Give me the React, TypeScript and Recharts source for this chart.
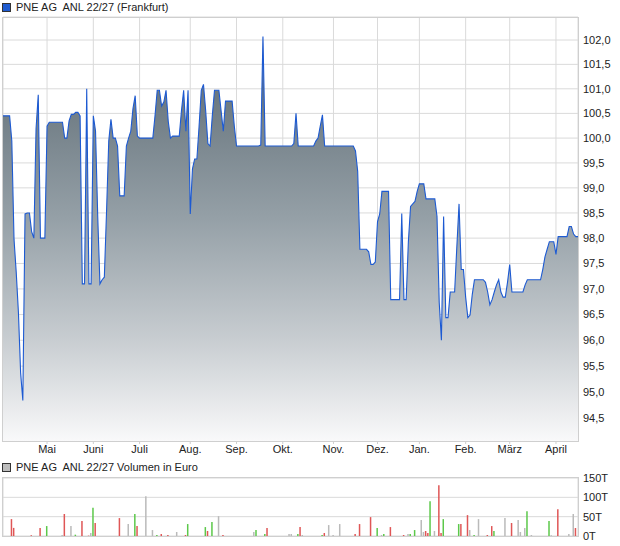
import React from 'react';
import { AreaChart, Area, BarChart, Bar, Cell, XAxis, YAxis, CartesianGrid } from 'recharts';

// trading day index 0 .. 261 (April to April)
const priceValues = [
  100.45, 100.45, 100.45, 100.45, 99.94, 97.98, 97.33, 96.54, 95.37, 94.84,
  98.48, 98.5, 98.5, 98.13, 98.0, 100.19, 100.88, 98.0, 98.0, 98.0,
  100.24, 100.32, 100.32, 100.32, 100.32, 100.32, 100.32, 100.32, 100.0, 100.0,
  100.35, 100.48, 100.48, 100.52, 100.52, 100.45, 97.1, 97.1, 101.0, 97.1,
  97.1, 100.45, 100.14, 98.43, 97.1, 97.18, 97.23, 98.53, 99.94, 100.38,
  100.0, 100.0, 99.84, 98.84, 98.84, 98.84, 99.84, 100.0, 100.14, 100.6,
  100.86, 100.04, 100.0, 100.0, 100.0, 100.0, 100.0, 100.0, 100.0, 100.45,
  100.97, 100.97, 100.65, 100.73, 100.97, 100.34, 100.0, 100.04, 100.04, 100.04,
  100.04, 100.55, 100.97, 100.14, 100.97, 98.48, 99.38, 99.58, 99.58, 100.24,
  100.97, 101.09, 100.55, 99.89, 99.84, 100.45, 100.97, 100.97, 100.97, 100.55,
  100.14, 100.75, 100.75, 100.75, 100.75, 100.24, 99.84, 99.84, 99.84, 99.84,
  99.84, 99.84, 99.84, 99.84, 99.84, 99.84, 99.84, 99.86, 102.07, 99.84,
  99.84, 99.84, 99.84, 99.84, 99.84, 99.84, 99.84, 99.84, 99.84, 99.84,
  99.84, 99.84, 99.89, 100.5, 99.84, 99.84, 99.84, 99.84, 99.84, 99.84,
  99.84, 99.84, 99.94, 100.0, 100.24, 100.47, 99.84, 99.84, 99.84, 99.84,
  99.84, 99.84, 99.84, 99.84, 99.84, 99.84, 99.84, 99.84, 99.84, 99.84,
  99.74, 99.33, 97.78, 97.78, 97.78, 97.78, 97.73, 97.48, 97.48, 97.53,
  98.33, 98.48, 98.93, 98.93, 98.93, 98.93, 96.79, 96.79, 96.79, 96.79,
  96.79, 98.49, 96.79, 96.79, 97.93, 98.63, 98.68, 98.73, 98.93, 99.08,
  99.08, 99.08, 98.78, 98.78, 98.78, 98.78, 98.78, 98.43, 96.74, 96.0,
  98.43, 96.44, 96.44, 96.94, 96.94, 96.94, 97.83, 98.68, 97.38, 97.38,
  96.84, 96.44, 96.49, 96.89, 97.18, 97.18, 97.18, 97.18, 97.18, 97.13,
  96.94, 96.69, 96.79, 96.94, 97.08, 97.18, 96.94, 96.84, 96.84, 97.13,
  97.48, 96.94, 96.94, 96.94, 96.94, 96.94, 96.94, 97.08, 97.18, 97.18,
  97.18, 97.18, 97.18, 97.18, 97.18, 97.38, 97.63, 97.78, 97.93, 97.93,
  97.93, 97.68, 98.03, 98.03, 98.03, 98.03, 98.03, 98.23, 98.23, 98.08,
  98.03, 98.03,
];

const monthTicks = [20, 41, 62, 85, 106, 127, 150, 170, 189, 210, 230, 251];
const monthLabels = ['Mai', 'Juni', 'Juli', 'Aug.', 'Sep.', 'Okt.', 'Nov.', 'Dez.', 'Jan.', 'Feb.', 'März', 'April'];
const priceTicks = [94.5, 95, 95.5, 96, 96.5, 97, 97.5, 98, 98.5, 99, 99.5, 100, 100.5, 101, 101.5, 102];

// volume in thousand euro
const volumeDays = [
  4, 5, 13, 17, 20, 27, 28, 31, 33, 36, 39, 40, 41, 42, 53, 57, 60, 61, 65, 68,
  70, 72, 75, 79, 83, 84, 92, 93, 95, 98, 100, 114, 115, 119, 120, 130, 131, 134, 135, 136,
  145, 146, 148, 150, 153, 160, 162, 167, 170, 172, 173, 176, 182, 184, 185, 187, 190, 191, 192, 193,
  194, 196, 198, 199, 200, 207, 208, 211, 212, 214, 216, 220, 222, 223, 228, 231, 234, 235, 237, 238,
  240, 248, 249, 252, 257, 259, 260,
];
const volumeValues = [
  43.7, 21, 2, 20.5, 25.7, 2.6, 56.6, 25.7, 3.4, 38.6, 1, 7.7, 72.9, 33.4, 46.3, 30.9, 56.6, 25.7, 102.9, 15.4,
  2.6, 5.1, 2.6, 10.3, 2.6, 30.9, 23.1, 12.9, 36, 51.4, 2.6, 10.3, 15.4, 5.1, 20.6, 5.1, 5.1, 5.1, 23.1, 2.6,
  2.6, 7.7, 28.3, 2.6, 30.9, 5.1, 30.9, 48.9, 20.6, 2.6, 5.1, 23.1, 2.6, 5.1, 5.1, 15.4, 41.1, 10.3, 12.9, 7.7,
  90, 12.9, 131.1, 7.7, 43.7, 30.9, 30.9, 54, 15.4, 2.6, 43.7, 2.6, 25.7, 12.9, 46.3, 33.4, 41.1, 10.3, 20.6, 64.3,
  2.6, 38.6, 1.7, 69.4, 5.1, 56.6, 20.6,
];
const volumeMoves = [
  'down', 'down', 'down', 'down', 'up', 'flat', 'down', 'flat', 'up', 'down', 'down', 'flat', 'up', 'down', 'down', 'flat', 'up', 'down', 'flat', 'flat',
  'up', 'down', 'down', 'flat', 'down', 'up', 'up', 'down', 'up', 'flat', 'down', 'flat', 'up', 'up', 'down', 'flat', 'flat', 'up', 'down', 'flat',
  'up', 'down', 'flat', 'flat', 'flat', 'down', 'down', 'down', 'up', 'flat', 'up', 'down', 'down', 'flat', 'up', 'up', 'flat', 'flat', 'down', 'down',
  'up', 'flat', 'down', 'down', 'up', 'up', 'down', 'down', 'flat', 'up', 'flat', 'down', 'down', 'up', 'flat', 'down', 'flat', 'flat', 'flat', 'up',
  'flat', 'up', 'flat', 'down', 'flat', 'flat', 'down',
];
const volumeTicks = [0, 50, 100, 150];

const priceData = priceValues.map((price, day) => ({ day, price }));
const volumeData = volumeDays.map((day, i) => ({ day, volume: volumeValues[i], move: volumeMoves[i] }));

const moveColor: Record<string, string> = { up: '#5cc84a', down: '#df5656', flat: '#bababa' };
const font = '"Liberation Sans", Arial, sans-serif';
const gridColor = '#dadada';

const monthName = (d: number) => monthLabels[monthTicks.indexOf(d)] ?? '';

const LegendLine = ({ top, color, text }: { top: number; color: string; text: string }) => (
  <div style={{ position: 'absolute', left: 2, top, display: 'flex', alignItems: 'center', fontFamily: font, fontSize: 11, color: '#222', whiteSpace: 'pre' }}>
    <span style={{ width: 7, height: 7, background: color, border: '1px solid #333', marginRight: 5 }} />
    {text}
  </div>
);

const Frame = ({ top, height }: { top: number; height: number }) => (
  <div style={{ position: 'absolute', left: 2, top, width: 577, height, boxSizing: 'border-box', border: '1px solid #cfcfcf', pointerEvents: 'none' }} />
);

export default function App() {
  return (
    <div style={{ position: 'absolute', left: 0, top: 0, width: 620, height: 546, background: '#fff', fontFamily: font }}>
      <LegendLine top={1} color="#1f5bd0" text="PNE AG  ANL 22/27 (Frankfurt)" />
      <div style={{ position: 'absolute', left: 0, top: 0 }}>
        <AreaChart width={620} height={460} data={priceData} margin={{ top: 17, right: 0, bottom: 0, left: 3 }}>
          <defs>
            <linearGradient id="priceFill" x1="0" y1="0" x2="0" y2="1">
              <stop offset="0%" stopColor="#58666f" />
              <stop offset="45%" stopColor="#95a0a7" />
              <stop offset="75%" stopColor="#c8cdd1" />
              <stop offset="100%" stopColor="#f9f9fa" />
            </linearGradient>
          </defs>
          <CartesianGrid stroke={gridColor} strokeWidth={1} />
          <XAxis
            dataKey="day"
            type="number"
            domain={[0, 261]}
            ticks={monthTicks}
            interval={0}
            tickFormatter={monthName}
            height={19}
            axisLine={false}
            tickLine={{ stroke: '#cfcfcf' }}
            tickSize={3}
            tickMargin={1}
            tick={{ fontSize: 11, fill: '#222', fontFamily: font }}
          />
          <YAxis
            orientation="right"
            width={42}
            scale="log"
            domain={[94.067, 102.475]}
            allowDataOverflow
            ticks={priceTicks}
            interval={0}
            tickFormatter={(v: number) => v.toFixed(1).replace('.', ',')}
            axisLine={false}
            tickLine={false}
            tickSize={0}
            tickMargin={5}
            tick={{ fontSize: 11, fill: '#222', fontFamily: font, textAnchor: 'start' }}
          />
          <Area
            type="linear"
            dataKey="price"
            stroke="#1d5ad2"
            strokeWidth={1.1}
            fill="url(#priceFill)"
            fillOpacity={1}
            dot={false}
            activeDot={false}
            isAnimationActive={false}
          />
        </AreaChart>
      </div>
      <Frame top={17} height={425} />

      <LegendLine top={461} color="#bdbdbd" text="PNE AG  ANL 22/27 Volumen in Euro" />
      <div style={{ position: 'absolute', left: 0, top: 470 }}>
        <BarChart width={620} height={76} data={volumeData} margin={{ top: 8, right: 0, bottom: 10, left: 3 }}>
          <CartesianGrid stroke={gridColor} strokeWidth={1} />
          <XAxis
            dataKey="day"
            type="number"
            domain={[0, 261]}
            ticks={monthTicks}
            interval={0}
            height={0}
            axisLine={false}
            tickLine={false}
            tick={false}
          />
          <YAxis
            orientation="right"
            width={42}
            domain={[0, 150]}
            ticks={volumeTicks}
            interval={0}
            tickFormatter={(v: number) => `${v}T`}
            axisLine={false}
            tickLine={false}
            tickSize={0}
            tickMargin={5}
            tick={{ fontSize: 11, fill: '#222', fontFamily: font, textAnchor: 'start' }}
          />
          <Bar dataKey="volume" barSize={1.5} isAnimationActive={false}>
            {volumeData.map((d) => (
              <Cell key={d.day} fill={moveColor[d.move]} />
            ))}
          </Bar>
        </BarChart>
      </div>
      <Frame top={477} height={60} />
    </div>
  );
}
